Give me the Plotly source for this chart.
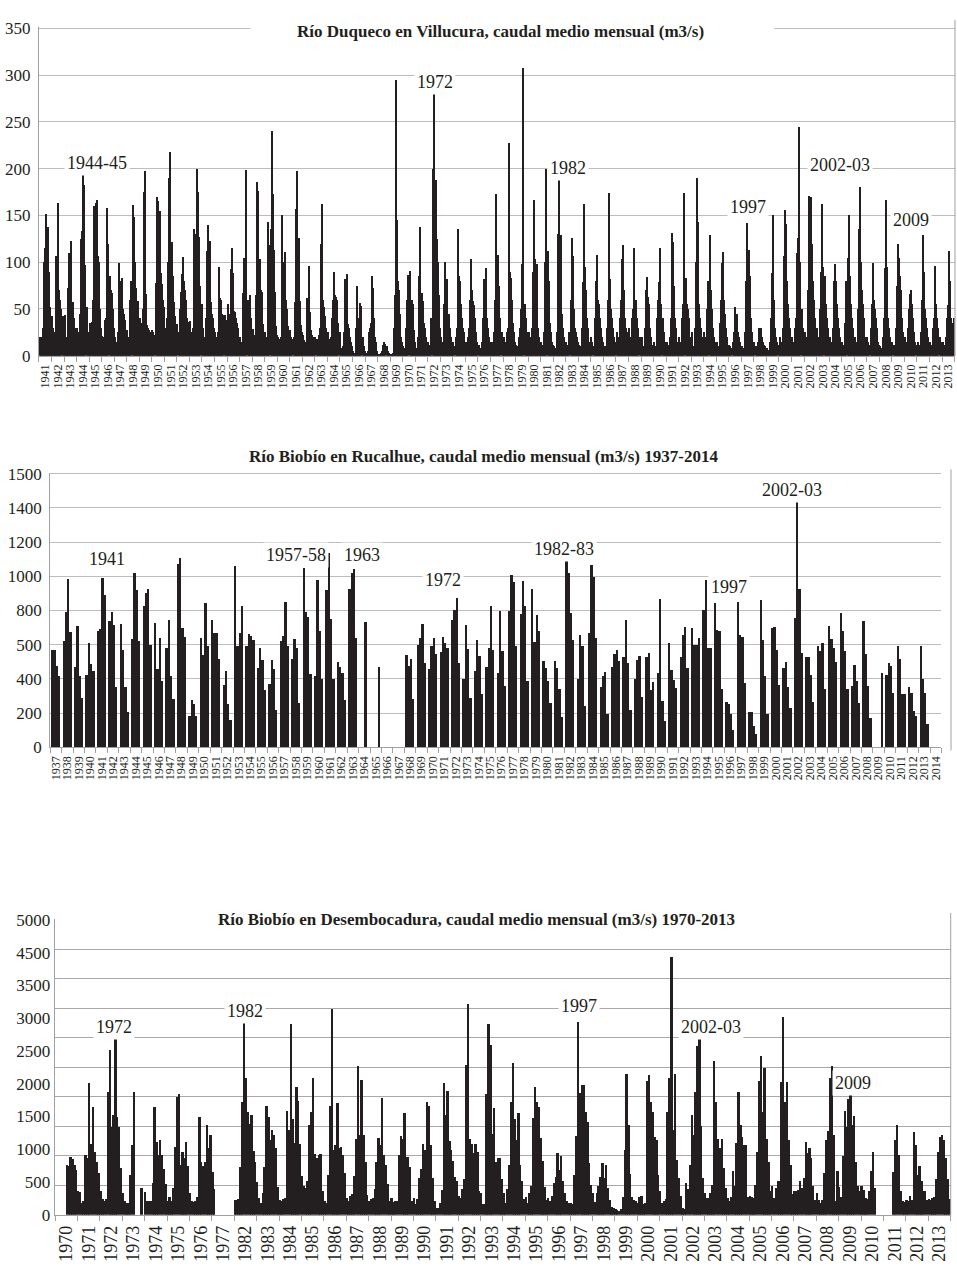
import plotly.graph_objects as go

# ---------------- DATA ----------------
# Panel 1: Río Duqueco en Villucura, monthly mean flow (m3/s), Jan..Dec, 1941-2013
duq_years = [str(y) for y in range(1941, 2014)]
duq_values = [
    [20, 17, 20, 30, 100, 115, 152, 103, 138, 90, 52, 30],    # 1941
    [42, 30, 22, 25, 107, 78, 163, 70, 60, 50, 42, 30],       # 1942
    [44, 20, 15, 72, 110, 68, 123, 57, 57, 40, 30, 25],       # 1943
    [30, 25, 20, 45, 125, 133, 197, 183, 97, 52, 25, 20],     # 1944
    [35, 35, 36, 60, 160, 150, 163, 167, 107, 100, 50, 30],   # 1945
    [21, 20, 20, 38, 40, 158, 120, 85, 70, 67, 50, 30],       # 1946
    [20, 15, 10, 25, 99, 68, 80, 83, 50, 45, 38, 25],         # 1947
    [28, 20, 18, 60, 80, 161, 148, 100, 72, 58, 58, 40],      # 1948
    [40, 35, 30, 50, 175, 197, 66, 33, 30, 28, 25, 20],       # 1949
    [27, 25, 22, 78, 170, 165, 133, 155, 88, 77, 60, 52],     # 1950
    [30, 17, 40, 100, 190, 218, 115, 122, 85, 57, 42, 30],    # 1951
    [34, 25, 50, 68, 87, 106, 80, 70, 60, 40, 36, 35],        # 1952
    [37, 25, 20, 30, 135, 130, 92, 200, 175, 127, 75, 55],    # 1953
    [30, 20, 15, 40, 112, 140, 62, 123, 57, 45, 40, 30],      # 1954
    [25, 20, 12, 25, 95, 62, 60, 45, 44, 44, 38, 30],         # 1955
    [55, 45, 40, 93, 115, 88, 48, 47, 40, 35, 30, 20],        # 1956
    [20, 15, 15, 67, 104, 93, 199, 60, 60, 65, 40, 25],       # 1957
    [29, 22, 15, 65, 186, 176, 80, 103, 70, 68, 34, 25],      # 1958
    [25, 17, 20, 143, 118, 135, 240, 173, 113, 68, 32, 22],   # 1959
    [20, 18, 17, 20, 150, 100, 65, 111, 60, 50, 32, 25],      # 1960
    [27, 20, 18, 20, 57, 157, 197, 82, 126, 58, 33, 25],      # 1961
    [22, 17, 15, 15, 62, 55, 96, 47, 27, 22, 18, 20],         # 1962
    [20, 18, 18, 22, 30, 120, 162, 60, 52, 42, 30, 25],       # 1963
    [25, 18, 15, 20, 40, 60, 89, 65, 63, 60, 35, 25],         # 1964
    [8, 5, 10, 25, 82, 60, 87, 34, 30, 20, 15, 10],           # 1965
    [5, 3, 3, 30, 75, 35, 40, 56, 53, 20, 10, 5],             # 1966
    [3, 3, 5, 25, 30, 35, 85, 72, 40, 20, 15, 5],             # 1967
    [2, 2, 2, 3, 5, 12, 15, 13, 10, 5, 3, 2],                 # 1968
    [2, 2, 3, 30, 65, 295, 145, 80, 70, 45, 20, 15],          # 1969
    [10, 8, 6, 30, 60, 86, 91, 30, 60, 55, 28, 15],           # 1970
    [8, 7, 20, 85, 138, 65, 67, 58, 35, 30, 20, 12],          # 1971
    [15, 12, 10, 40, 200, 282, 115, 188, 125, 100, 65, 30],   # 1972
    [20, 15, 15, 55, 100, 75, 82, 40, 45, 30, 20, 15],        # 1973
    [15, 10, 20, 30, 135, 85, 80, 55, 40, 30, 25, 15],        # 1974
    [10, 15, 20, 30, 60, 103, 70, 58, 54, 40, 25, 15],        # 1975
    [12, 8, 6, 15, 40, 82, 50, 94, 40, 30, 20, 15],           # 1976
    [15, 15, 12, 25, 60, 173, 80, 108, 75, 40, 25, 20],       # 1977
    [20, 15, 15, 25, 30, 227, 90, 83, 60, 35, 25, 15],        # 1978
    [12, 10, 8, 20, 30, 50, 98, 308, 55, 40, 25, 20],         # 1979
    [25, 20, 15, 30, 90, 167, 103, 80, 98, 30, 20, 15],       # 1980
    [15, 12, 10, 25, 100, 200, 112, 80, 35, 25, 15, 12],      # 1981
    [10, 8, 6, 25, 130, 190, 123, 129, 45, 30, 20, 15],       # 1982
    [15, 12, 10, 25, 60, 126, 107, 50, 30, 25, 20, 15],       # 1983
    [12, 10, 8, 30, 79, 162, 95, 70, 40, 30, 15, 12],         # 1984
    [20, 15, 10, 40, 80, 108, 60, 55, 40, 30, 20, 15],        # 1985
    [10, 8, 10, 30, 60, 174, 82, 50, 40, 30, 20, 15],         # 1986
    [25, 20, 15, 40, 60, 103, 118, 70, 40, 30, 25, 20],       # 1987
    [30, 20, 20, 40, 50, 115, 55, 60, 40, 30, 20, 10],        # 1988
    [20, 10, 8, 30, 70, 84, 63, 55, 30, 20, 12, 10],          # 1989
    [15, 10, 8, 40, 60, 79, 115, 55, 40, 25, 15, 12],         # 1990
    [15, 12, 10, 20, 40, 131, 122, 75, 40, 30, 15, 12],       # 1991
    [20, 15, 12, 40, 55, 174, 83, 55, 50, 40, 20, 15],        # 1992
    [25, 10, 8, 30, 100, 190, 143, 55, 40, 30, 20, 15],       # 1993
    [25, 20, 10, 50, 80, 129, 70, 50, 30, 20, 15, 12],        # 1994
    [15, 10, 8, 35, 60, 99, 111, 60, 45, 30, 20, 12],         # 1995
    [12, 10, 8, 15, 25, 52, 35, 45, 25, 20, 15, 10],          # 1996
    [10, 8, 6, 25, 80, 142, 105, 113, 85, 40, 25, 15],        # 1997
    [15, 10, 8, 15, 30, 25, 30, 20, 15, 12, 10, 8],           # 1998
    [8, 6, 5, 15, 40, 88, 150, 60, 30, 20, 15, 12],           # 1999
    [20, 15, 12, 30, 107, 156, 141, 80, 55, 40, 30, 20],      # 2000
    [20, 15, 10, 30, 40, 110, 126, 245, 100, 50, 30, 20],     # 2001
    [25, 20, 15, 70, 171, 100, 170, 120, 80, 60, 40, 30],     # 2002
    [30, 20, 15, 50, 90, 162, 95, 85, 55, 40, 30, 20],        # 2003
    [20, 15, 10, 30, 80, 98, 80, 55, 40, 30, 20, 15],         # 2004
    [15, 12, 10, 35, 80, 105, 151, 85, 55, 40, 30, 20],       # 2005
    [20, 15, 12, 50, 136, 180, 100, 70, 55, 40, 20, 15],      # 2006
    [20, 15, 12, 30, 55, 99, 60, 50, 40, 30, 15, 12],         # 2007
    [10, 8, 8, 20, 40, 94, 167, 95, 40, 30, 20, 15],          # 2008
    [15, 12, 10, 30, 75, 120, 105, 85, 70, 40, 25, 20],       # 2009
    [20, 15, 12, 30, 50, 66, 70, 55, 40, 25, 15, 12],         # 2010
    [15, 12, 10, 25, 60, 129, 90, 50, 40, 30, 20, 15],        # 2011
    [15, 12, 10, 30, 40, 96, 55, 40, 30, 20, 15, 12],         # 2012
    [15, 12, 10, 20, 40, 54, 112, 80, 40, 35, 30, 40],        # 2013
]
duq_ticks = [0, 50, 100, 150, 200, 250, 300, 350]
duq_notes = [("1944-45", 4.65, 206), ("1972", 31.6, 293), ("1982", 42.2, 201),
             ("1997", 56.5, 159), ("2002-03", 63.9, 204), ("2009", 69.5, 145)]

# Panel 2: Río Biobío en Rucalhue, four values per year, 1937-2014
ruc_years = [str(y) for y in range(1937, 2015)]
ruc_values = [
    [571, 573, 480, 417], [624, 792, 989, 676], [471, 711, 419, 292], [428, 611, 490, 446],      # 1937-40
    [682, 692, 995, 890], [740, 793, 720, 355], [724, 571, 355, 207], [638, 1022, 922, 622],     # 1941-44
    [830, 903, 928, 600], [730, 461, 644, 392], [582, 749, 417, 284], [1072, 1110, 701, 647],    # 1945-48
    [188, 279, 255, 186], [640, 542, 845, 596], [744, 669, 669, 519], [369, 451, 257, 163],      # 1949-52
    [1064, 594, 671, 828], [594, 665, 655, 629], [464, 581, 514, 335], [372, 512, 460, 220],     # 1953-56
    [623, 656, 853, 594], [518, 636, 585, 263], [1050, 795, 767, 431], [422, 981, 680, 399],     # 1957-60
    [920, 1140, 751, 399], [502, 470, 437, 278], [930, 1020, 1045, 642],                         # 1961-63
    [None, None, 736, None], [None, None, None, 470], [None, None, None, None],                  # 1964-66
    [None, None, None, None], [540, 479, 521, 284], [598, 640, 725, 495], [461, 596, 644, 548],  # 1967-70
    [557, 649, 611, 582], [749, 803, 874, 496], [403, 716, 576, 288], [451, 628, 534, 317],     # 1971-74
    [474, 586, 826, 572], [436, 797, 567, 361], [801, 1009, 970, 596], [784, 974, 826, 390],     # 1975-78
    [926, 618, 778, 682], [509, 465, 388, 259], [509, 465, 346, 177], [1089, 1022, 788, 628],    # 1979-82
    [403, 657, 592, 246], [672, 1066, 999, 640], [355, 417, 445, 196], [471, 548, 572, 509],     # 1983-86
    [528, 749, 496, 221], [399, 514, 537, 297], [531, 552, 336, 384], [435, 867, 274, 157],      # 1987-90
    [610, 456, 397, 351], [533, 662, 706, 464], [700, 598, 598, 642], [805, 982, 581, 581],      # 1991-94
    [844, 690, 681, 345], [268, 255, 198, 105], [853, 658, 648, 380], [211, 211, 128, 82],       # 1995-98
    [863, 627, 422, 198], [700, 706, 570, 364], [464, 499, 355, 230], [757, 1435, 930, 556],     # 1999-02
    [528, 528, 423, 269], [596, 567, 615, 342], [711, 638, 582, 503], [788, 682, 563, 342],      # 2003-06
    [361, 484, 388, 259], [743, 548, 361, 173], [None, None, None, 436], [427, 496, 475, 323],    # 2007-10
    [592, 519, 317, 317], [355, 323, 215, 188], [592, 403, 323, 138], [None, None, None, None],  # 2011-14
]
ruc_ticks = [0, 200, 400, 600, 800, 1000, 1200, 1400, 1600]
ruc_ticktext = ["0", "200", "400", "500", "800", "1000", "1200", "1400", "1500"]
ruc_notes = [("1941", 4.95, 1100), ("1957-58", 21.55, 1123), ("1963", 27.3, 1123),
             ("1972", 34.4, 980), ("1982-83", 44.95, 1161), ("1997", 59.45, 936),
             ("2002-03", 64.9, 1507)]

# Panel 3: Río Biobío en Desembocadura, monthly mean flow (m3/s)
des_years = [str(y) for y in list(range(1970, 1978)) + list(range(1982, 2014))]
N = None
des_values = [
    [N, N, N, N, N, N, 836, 830, 975, 950, 844, 764],                      # 1970
    [401, 385, 206, 234, 1014, 959, 2241, 1198, 1834, 1070, 903, 708],     # 1971
    [401, 262, 234, 262, 2090, 2798, 1488, 1694, 3021, 1655, 1488, 792],   # 1972
    [373, 234, 206, 206, 680, 1182, 2085, N, N, N, 460, N],                # 1973
    [380, 230, 230, 230, 540, 1822, 1226, 1014, 1265, 1014, 780, 524],     # 1974
    [234, 301, 234, 457, 1154, 1990, 2045, 847, 1070, 959, 1226, 819],     # 1975
    [373, 234, 223, 234, 301, 1655, 903, 830, 903, 1516, 1126, 1349],      # 1976
    [719, 440, N, N, N, N, N, N, N, N, N, N],                              # 1977
    [245, 245, 262, 803, 1906, 3272, 2324, 1750, 1544, 1694, 1081, 900],   # 1982
    [557, 290, 206, 373, 803, 1839, 1655, 1265, 1432, 1349, 1126, 468],    # 1983
    [245, 234, 262, 290, 1767, 1432, 3233, 1616, 1210, 2174, 1934, 1193],  # 1984
    [652, 485, 457, 580, 1516, 1739, 2324, 1026, 959, 1014, 1026, 401],    # 1985
    [234, 206, 680, 1850, 3495, 1098, 1182, 1895, 1137, 1154, 1014, 700],  # 1986
    [290, 234, 318, 357, 652, 1277, 2520, 1360, 2285, 1360, 892, 334],     # 1987
    [234, 262, 290, 429, 892, 1304, 1182, 1979, 1014, 847, 524, 234],      # 1988
    [290, 217, 234, 234, 1014, 1332, 1293, 1722, 975, 986, 803, 240],      # 1989
    [290, 190, 262, 624, 780, 1193, 1098, 1917, 1850, 1182, 624, 234],     # 1990
    [111, 123, 206, 412, 2230, 1694, 2101, 1249, 1098, 914, 635, 569],     # 1991
    [318, 290, 429, 613, 2547, 3567, 1293, 1198, 1042, 1193, 1070, 400],   # 1992
    [373, 178, 178, 2045, 3233, 2882, 1377, 1806, 903, 970, 970, 600],     # 1993
    [373, 206, 429, 836, 1906, 2575, 1616, 1265, 1728, 847, 580, 260],     # 1994
    [301, 206, 373, 485, 1639, 2174, 1917, 1822, 1310, 914, 468, 250],     # 1995
    [290, 234, 318, 541, 635, 1053, 764, 998, 569, 373, 234, 200],         # 1996
    [206, 190, 669, 1338, 3272, 2073, 2202, 2202, 1739, 1572, 875, 500],   # 1997
    [373, 223, 373, 485, 635, 875, 624, 836, 457, 250, 134, 120],          # 1998
    [95, 84, 67, 100, 300, 1098, 2380, 1516, 691, 300, 250, 230],          # 1999
    [206, 301, 318, 178, 200, 2269, 2363, 1917, 1750, 1321, 1265, 680],    # 2000
    [401, 206, 234, 262, 1739, 2324, 4376, 1432, 2380, 931, 624, 318],     # 2001
    [123, 106, 541, 429, 847, 1694, 1349, 2085, 2865, 2977, 1500, 620],    # 2002
    [373, 290, 290, 373, 500, 2603, 1906, 1282, 1126, 1282, 792, 457],     # 2003
    [290, 234, 300, 736, 485, 1210, 2085, 1516, 1321, 1182, 1182, 300],    # 2004
    [318, 301, 290, 500, 1070, 2269, 2687, 1739, 2492, 1282, 903, 400],    # 2005
    [485, 290, 457, 569, 569, 2252, 3356, 1906, 2252, 1265, 836, 350],     # 2006
    [401, 401, 418, 569, 457, 624, 1226, 1042, 1137, 959, 485, 250],       # 2007
    [373, 245, 206, 245, 700, 1265, 1416, 2324, 2531, 1360, 234, 736],     # 2008
    [468, 300, 1000, 1767, 1488, 1962, 2029, 1516, 1672, 900, 485, 400],   # 2009
    [485, 412, 290, 262, 401, 736, 1070, 446, N, N, N, N],                 # 2010
    [N, N, N, N, N, 725, 1265, 1516, 1014, 401, 234, 220],                 # 2011
    [245, 234, 318, 250, 1405, 1182, 680, 819, 569, 401, 401, 250],        # 2012
    [262, 245, 290, 301, 600, 1070, 1321, 1360, 1265, 959, 613, 262],      # 2013
]
des_grid = [0, 500, 1000, 1500, 2000, 2500, 3000, 3500, 4000, 4500, 5000]
des_labels = ["0", "500", "1000", "1500", "2000", "2500", "3000", "3500", "4500", "5000"]
des_notes = [("1972", 2.62, 3185), ("1982", 8.5, 3460), ("1997", 23.4, 3536),
             ("2002-03", 29.3, 3185), ("2009", 35.65, 2240)]

titles = ["Río Duqueco en Villucura, caudal medio mensual (m3/s)",
          "Río Biobío en Rucalhue, caudal medio mensual (m3/s) 1937-2014",
          "Río Biobío en Desembocadura, caudal medio mensual (m3/s) 1970-2013"]

# ---------------- STYLE / LAYOUT ----------------
W, H = 957, 1272
BAR = "#231f20"
GRID = "#bdbdbd"
GRID3 = "#a9a9a9"
AXC = "#a0a0a0"
TXT = "#231f20"
SERIF = "Liberation Serif, Times New Roman, serif"


def px(x):
    return x / W


def py(y):
    return 1 - y / H


fig = go.Figure()

# panel 1 bars
x1, y1 = [], []
for i, row in enumerate(duq_values):
    for m, v in enumerate(row):
        x1.append(i + (m + 0.5) / 12)
        y1.append(v)
fig.add_trace(go.Bar(x=x1, y=y1, width=1 / 12, marker=dict(color=BAR, line=dict(width=0)),
                     xaxis="x", yaxis="y", showlegend=False, hoverinfo="skip"))

# panel 2 bars
x2, y2 = [], []
for i, row in enumerate(ruc_values):
    for k, v in enumerate(row):
        x2.append(i + 0.2 + 0.2 * k)
        y2.append(v)
fig.add_trace(go.Bar(x=x2, y=y2, width=0.2, marker=dict(color=BAR, line=dict(width=0)),
                     xaxis="x2", yaxis="y2", showlegend=False, hoverinfo="skip"))

# panel 3 bars
x3, y3 = [], []
for i, row in enumerate(des_values):
    for m, v in enumerate(row):
        x3.append(i + (m + 0.5) / 12)
        y3.append(v)
fig.add_trace(go.Bar(x=x3, y=y3, width=1 / 12, marker=dict(color=BAR, line=dict(width=0)),
                     xaxis="x3", yaxis="y3", showlegend=False, hoverinfo="skip"))
# dummy trace for the label axis of panel 3
fig.add_trace(go.Scatter(x=[None], y=[None], xaxis="x3", yaxis="y4", showlegend=False, hoverinfo="skip"))


def xaxis(dom, n, labels, size, anchor):
    return dict(domain=dom, range=[0, n], anchor=anchor, tickmode="array",
                tickvals=[i + 0.5 for i in range(n)], ticktext=labels, tickangle=-90,
                ticks="", showgrid=False, zeroline=False, showline=True, linecolor=AXC,
                linewidth=1, tickfont=dict(family=SERIF, size=size, color=TXT),
                ticklabelstandoff=3,
                minor=dict(tickmode="array", tickvals=list(range(n + 1)), ticks="outside",
                           ticklen=5, tickwidth=1, tickcolor=AXC, showgrid=False))


def yaxis(dom, rng, vals, text, anchor, grid):
    return dict(domain=dom, range=rng, anchor=anchor, tickmode="array", tickvals=vals,
                ticktext=text, showgrid=True, gridcolor=grid, gridwidth=1, zeroline=False,
                showline=True, linecolor=AXC, linewidth=1, ticks="",
                tickfont=dict(family=SERIF, size=17, color=TXT), ticklabelstandoff=4)


# ranges are extended a hair above the top gridline so that it is drawn
fig.update_layout(
    width=W, height=H, margin=dict(l=0, r=0, t=0, b=0),
    paper_bgcolor="white", plot_bgcolor="white", bargap=0, barmode="overlay",
    showlegend=False,
    xaxis=xaxis([px(38), px(955.6)], len(duq_years), duq_years, 12, "y"),
    yaxis=yaxis([py(352.7), py(19.26)], [0, 351.5], duq_ticks, [str(t) for t in duq_ticks], "x", GRID),
    xaxis2=xaxis([px(49.3), px(942.4)], len(ruc_years), ruc_years, 12, "y2"),
    yaxis2=yaxis([py(750), py(471.3)], [0, 1606], ruc_ticks, ruc_ticktext, "x2", GRID),
    xaxis3=xaxis([px(54.3), px(951.7)], len(des_years), des_years, 18, "y3"),
    yaxis3=dict(domain=[py(1224), py(924.0)], range=[0, 5017], anchor="x3", tickmode="array",
                tickvals=des_grid, showticklabels=False, showgrid=True, gridcolor=GRID3,
                zeroline=False, showline=True, linecolor=AXC, ticks=""),
    yaxis4=dict(domain=[py(1224), py(924.0)], range=[0, 5017], anchor="x3", overlaying="y3",
                side="left", tickmode="array",
                tickvals=[k * 5000 / (len(des_labels) - 1) for k in range(len(des_labels))],
                ticktext=des_labels, showgrid=False, zeroline=False, showline=False, ticks="",
                tickfont=dict(family=SERIF, size=17, color=TXT), ticklabelstandoff=4),
)

shapes = []
# gaps in top gridlines behind titles
shapes.append(dict(type="rect", xref="paper", yref="paper", x0=px(250), x1=px(775),
                   y0=py(33), y1=py(12), fillcolor="white", line=dict(width=0), layer="above"))
shapes.append(dict(type="rect", xref="paper", yref="paper", x0=px(167), x1=px(802),
                   y0=py(936), y1=py(914), fillcolor="white", line=dict(width=0), layer="above"))
# right-hand frame lines
for xx, ya, yb in [(956, 12, 352.7), (952, 468, 753), (951.7, 918, 1226)]:
    shapes.append(dict(type="line", xref="paper", yref="paper", x0=px(xx), x1=px(xx),
                       y0=py(yb), y1=py(ya), line=dict(color=AXC, width=1), layer="above"))
fig.update_layout(shapes=shapes)

ann = []
for t, (xc, yc) in zip(titles, [(501, 23.5), (483.5, 455), (476, 925)]):
    ann.append(dict(text="<b>%s</b>" % t, xref="paper", yref="paper", x=px(xc), y=py(yc),
                    xanchor="center", yanchor="middle", showarrow=False,
                    font=dict(family=SERIF, size=17, color=TXT)))
for notes, xr, yr in [(duq_notes, "x", "y"), (ruc_notes, "x2", "y2"), (des_notes, "x3", "y3")]:
    for t, xv, yv in notes:
        ann.append(dict(text=t, xref=xr, yref=yr, x=xv, y=yv, xanchor="center",
                        yanchor="middle", showarrow=False, bgcolor="white", borderpad=2,
                        font=dict(family=SERIF, size=18, color=TXT)))
fig.update_layout(annotations=ann)

fig.write_html("out.html")
